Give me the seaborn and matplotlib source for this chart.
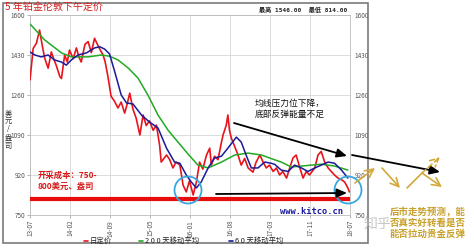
import matplotlib
matplotlib.use("Agg")
import matplotlib.pyplot as plt
import pandas as pd
import seaborn as sns
from matplotlib.patches import Circle, Rectangle

# ---------------- data ----------------
red_month = [0, 0.6, 1.2, 1.8, 2.3, 2.75, 3.4, 4.0, 4.5, 4.9,
             5.6, 5.9, 6.5, 7.0, 7.4, 8.1, 8.7, 9.2, 9.6, 10.3,
             10.9, 11.5, 12.1, 12.75, 13.2, 13.7, 14.1, 14.6, 15.2, 15.8,
             16.5, 17.1, 17.75, 18.2, 18.7, 19.3, 19.9, 20.6, 21.2, 21.8,
             22.4, 23.1, 23.7, 24.3, 24.6, 25.1, 25.6, 26.2, 26.8, 27.4,
             28.1, 28.7, 29.3, 29.9, 30.25, 30.6, 31.2, 31.8, 32.4, 33.1,
             33.7, 34.0, 34.6, 35.25, 35.9, 36.2, 36.8, 37.1, 37.4, 37.75,
             38.4, 39.0, 39.6, 40.25, 40.9, 41.8, 42.4, 43.1, 43.7, 44.3,
             44.9, 45.6, 46.2, 46.8, 47.4, 48.1, 48.7, 49.3, 49.9, 50.6,
             51.2, 51.8, 52.4, 53.4, 54.0, 54.6, 55.25, 55.9, 56.5, 57.1,
             57.75, 58.4, 59.0, 59.6, 59.9]
red_price = [1324, 1458, 1480, 1536, 1470, 1417, 1374, 1443, 1410, 1387,
             1338, 1330, 1430, 1400, 1451, 1415, 1460, 1420, 1400, 1475,
             1487, 1440, 1501, 1470, 1450, 1430, 1400, 1340, 1255, 1235,
             1205, 1230, 1183, 1220, 1268, 1200, 1162, 1090, 1175, 1130,
             1150, 1110, 1132, 1047, 975, 990, 1005, 985, 950, 975,
             962, 877, 848, 895, 865, 835, 890, 975, 945, 1005,
             1034, 962, 1000, 985, 1060, 1090, 1132, 1175, 1110, 1077,
             1040, 1005, 962, 990, 950, 932, 975, 1005, 975, 950,
             962, 935, 950, 920, 935, 907, 950, 992, 1005, 950,
             907, 935, 920, 950, 1005, 1020, 975, 950, 935, 920,
             907, 900, 890, 865, 848]

green_month = [0, 2.75, 5.9, 7.75, 10.9, 13.4, 14.9, 16.5, 18.4, 20.25,
               22.1, 24.0, 25.9, 27.75, 29.6, 31.5, 33.4, 35.9, 38.4, 40.9,
               43.4, 45.2, 47.1, 49.0, 50.9, 52.75, 54.6, 57.1, 59.6]
green_ma200 = [1562, 1494, 1439, 1422, 1422, 1430, 1425, 1409, 1375, 1332,
               1260, 1175, 1110, 1060, 1010, 962, 950, 975, 1005, 1013,
               1005, 990, 975, 954, 958, 962, 966, 958, 941]

blue_month = [0, 0.9, 2.1, 3.4, 4.6, 5.9, 6.8, 7.75, 9.0, 10.6,
              12.1, 13.1, 14.0, 14.9, 15.9, 17.1, 18.1, 19.3, 20.9, 22.4,
              24.0, 25.6, 27.1, 28.1, 29.3, 30.25, 31.2, 32.1, 33.4, 34.6,
              35.9, 37.1, 38.7, 39.6, 40.6, 41.5, 42.75, 44.0, 45.2, 45.9,
              47.1, 48.4, 49.6, 50.9, 52.1, 53.4, 54.6, 55.9, 57.1, 58.4,
              59.6]
blue_ma60 = [1443, 1430, 1422, 1430, 1409, 1400, 1387, 1409, 1430, 1439,
             1460, 1465, 1455, 1435, 1358, 1260, 1226, 1222, 1175, 1145,
             1120, 1034, 975, 970, 920, 890, 865, 890, 950, 992,
             1000, 1034, 1081, 1060, 1000, 950, 950, 975, 970, 965,
             941, 935, 962, 950, 935, 950, 962, 975, 970, 941,
             907]

y_ticks = [750, 920, 1090, 1260, 1430, 1600]
x_tick_pos = [0, 7.5, 15, 22.5, 30, 37.5, 45, 52.5, 60]
x_tick_labels = ["13-07", "14-02", "14-09", "15-05", "16-01",
                 "16-08", "17-03", "17-11", "18-07"]
y_label_chars = ["美", "元", "/", "盎", "司"]
cost_level = 817
price_high = 1546.00
price_low = 814.00

# ---------------- figure ----------------
sns.set_theme(style="white")
plt.rcParams['font.family'] = ['Noto Sans CJK SC', 'DejaVu Sans']

W, H = 474, 248
fig = plt.figure(figsize=(W / 100, H / 100), dpi=100)
fig.patch.set_facecolor('white')

ax = fig.add_axes([30 / W, 1 - 215 / H, 320 / W, 200 / H])
ax.set_facecolor('white')

df_red = pd.DataFrame({'m': red_month, 'v': red_price})
df_green = pd.DataFrame({'m': green_month, 'v': green_ma200})
df_blue = pd.DataFrame({'m': blue_month, 'v': blue_ma60})

sns.lineplot(data=df_red, x='m', y='v', ax=ax, color='#e8141c', lw=1.2,
             estimator=None, zorder=3)
sns.lineplot(data=df_green, x='m', y='v', ax=ax, color='#22aa22', lw=1.1,
             estimator=None, zorder=4)
sns.lineplot(data=df_blue, x='m', y='v', ax=ax, color='#1a1a9a', lw=1.1,
             estimator=None, zorder=5)
ax.axhline(cost_level, color='#e80c0c', lw=3.0, zorder=6)

ax.set_xlim(0, 60)
ax.set_ylim(750, 1600)
ax.set_xticks(x_tick_pos)
ax.set_xticklabels(x_tick_labels, rotation=90)
ax.set_yticks(y_ticks)
ax.set_yticklabels([str(v) for v in y_ticks])
ax.set_xlabel('')
ax.set_ylabel('')
ax.grid(True, color='#d6d6d6', lw=0.6)
ax.tick_params(axis='both', labelsize=4.6, labelcolor='#555555', length=2,
               width=0.5, color='#999999', pad=1.5)
ax.tick_params(axis='y', left=True, right=False, labelleft=True, labelright=True)
ax.tick_params(axis='x', bottom=True)
for s in ax.spines.values():
    s.set_color('#bbbbbb')
    s.set_linewidth(0.6)

# ---------------- overlay in pixel coordinates ----------------
ov = fig.add_axes([0, 0, 1, 1], zorder=10)
ov.set_xlim(0, W)
ov.set_ylim(H, 0)
ov.axis('off')
ov.patch.set_alpha(0)

ov.add_patch(Rectangle((3, 3), 365, 240, fill=False, edgecolor='#7a7a7a', lw=1.2))

ov.text(5, 8, "5 年铂金伦敦下午定价", color='#d42020', fontsize=7.2,
        va='center', ha='left')
ov.text(259, 9.5, f"最高 {price_high:.2f}  最低 {price_low:.2f}", fontsize=4.4,
        fontweight='bold', family=['DejaVu Sans Mono', 'Noto Sans CJK SC'],
        va='center', ha='left', color='#222222')

for i, ch in enumerate(y_label_chars):
    ov.text(8.5, 113 + 8.2 * i, ch, fontsize=5.2, ha='center', va='center',
            color='#333333')

# legend
leg_items = [(84, "日定价", '#e8141c'), (139, "2 0 0 天移动平均", '#22aa22'),
             (229, "6 0 天移动平均", '#1a1a9a')]
for x0, lab, col in leg_items:
    ov.plot([x0, x0 + 4], [240.5, 240.5], color=col, lw=1.2)
    ov.text(x0 + 6, 240.5, lab, fontsize=5.3, va='center', ha='left', color='#222222')

# cost text
ov.text(38, 175, "开采成本：750-", color='#d81818', fontsize=6, fontweight='bold',
        va='center', ha='left')
ov.text(38, 186, "800美元、盎司", color='#d81818', fontsize=6, fontweight='bold',
        va='center', ha='left')

ov.text(280, 212, "www.kitco.cn", color='#1a1aa0', fontweight='bold',
        family='DejaVu Sans Mono', fontsize=6.3, va='center', ha='left')

ov.text(255, 103, "均线压力位下降，", fontsize=6.3, va='center', ha='left', color='#111111')
ov.text(255, 114, "底部反弹能量不足", fontsize=6.3, va='center', ha='left', color='#111111')

# circles
for cx, cy in [(188, 190), (348, 190)]:
    ov.add_patch(Circle((cx, cy), 13.5, fill=False, edgecolor='#3aa8e0', lw=1.3))

# black arrows
blk = dict(arrowstyle='-|>,head_length=0.5,head_width=0.22', color='black', lw=1.3,
           shrinkA=0, shrinkB=0)
ov.annotate('', xy=(347, 156), xytext=(234, 123), arrowprops=blk)
ov.annotate('', xy=(440, 172), xytext=(352, 155), arrowprops=blk)
ov.annotate('', xy=(347, 193), xytext=(216, 194), arrowprops=blk)

# golden arrows
gold = '#d4a83a'
gp = dict(arrowstyle='->,head_length=0.5,head_width=0.25', color=gold, lw=1.2,
          shrinkA=0, shrinkB=0)
ov.annotate('', xy=(375, 168), xytext=(355, 183), arrowprops=gp)
ov.annotate('', xy=(400, 188), xytext=(382, 168), arrowprops=gp)
ov.plot([407, 422], [188, 173], color=gold, lw=1.2)
ov.annotate('', xy=(440, 157), xytext=(422, 173),
            arrowprops=dict(gp, linestyle=(0, (3, 2))))
ov.annotate('', xy=(442, 187), xytext=(422, 173), arrowprops=gp)

# watermark
ov.text(364, 225, "知乎", fontsize=10, color='#bbbbbb', alpha=0.8, va='center', ha='left')

# golden text
for i, line in enumerate(["后市走势预测，能", "否真实好转看是否", "能否拉动贵金反弹"]):
    ov.text(390, 212 + 11 * i, line, fontsize=6.8, color='#c8a02a', va='center',
            ha='left', fontweight='bold')

fig.savefig("out.png", dpi=100)
